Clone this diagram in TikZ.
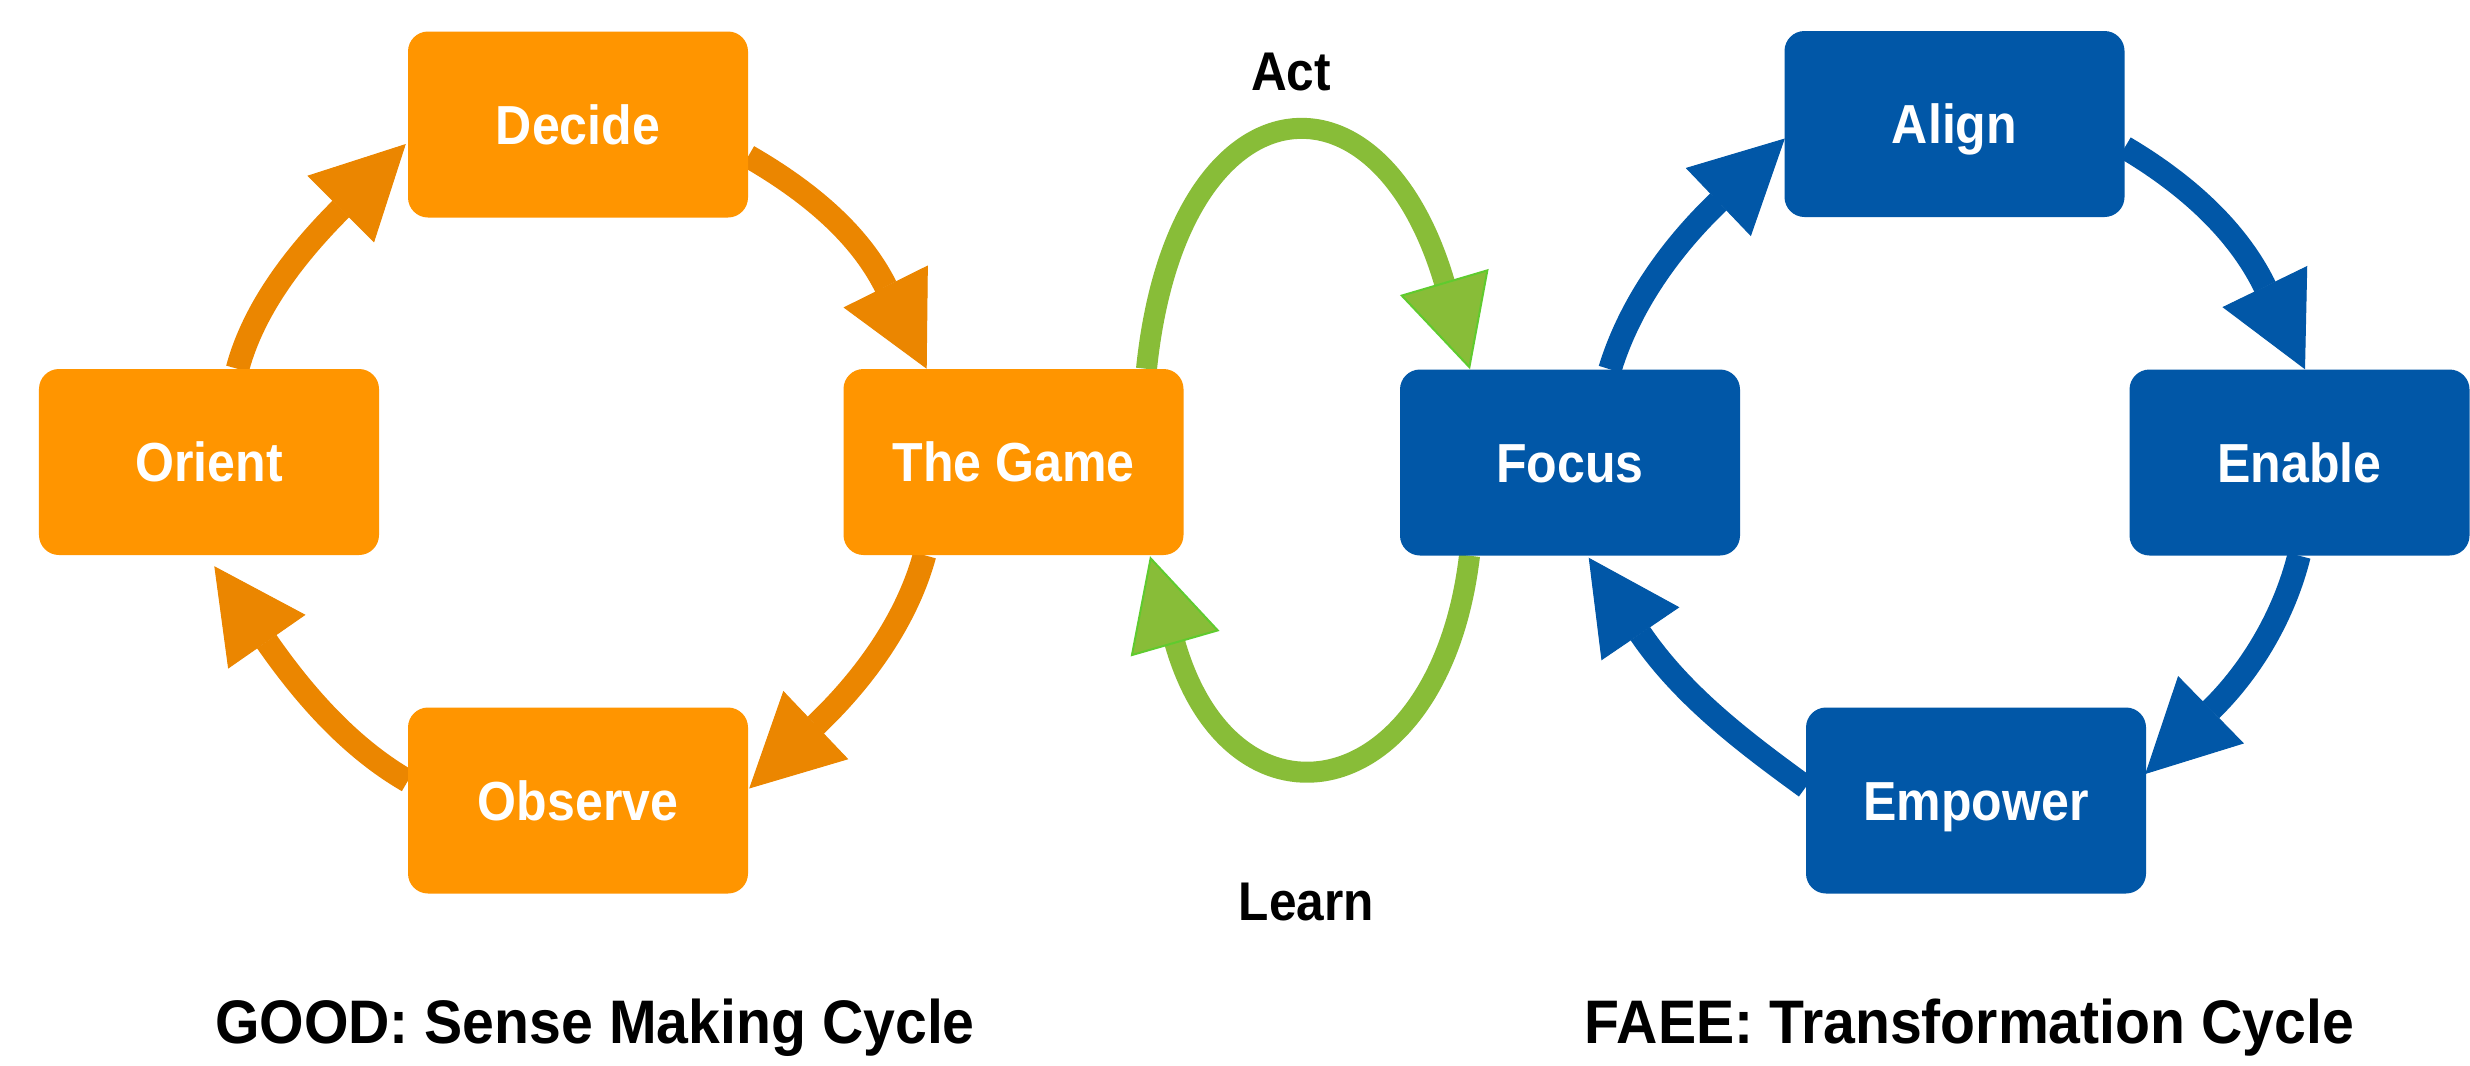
\documentclass[tikz,border=0pt]{standalone}
\usepackage{fontspec}
\setmainfont{Liberation Sans}[FakeStretch=0.91]
\newfontfamily\ttlfont{Liberation Sans}[FakeStretch=0.93]
\usetikzlibrary{arrows.meta,calc}
\pgfdeclarelayer{bg}
\pgfsetlayers{bg,main}
\definecolor{obox}{HTML}{FF9500}
\definecolor{oarr}{HTML}{EB8600}
\definecolor{bbox}{HTML}{0157A7}
\definecolor{garr}{HTML}{88BD38}
\definecolor{gedge}{HTML}{5FCB2E}
\begin{document}
\begin{tikzpicture}[x=1bp,y=-1bp,
  box/.style={rounded corners=20bp, minimum width=340bp, minimum height=186bp, inner sep=0pt,
    text=white, font=\fontsize{55bp}{60bp}\selectfont\bfseries, text height=39.5bp, text depth=0pt},
  obx/.style={box, fill=obox},
  bbx/.style={box, fill=bbox},
  lbl/.style={inner sep=0pt, text=black, font=\fontsize{54.5bp}{60bp}\selectfont\bfseries, text height=39bp, text depth=0pt},
  ttl/.style={inner sep=0pt, text=black, font=\ttlfont\fontsize{61.5bp}{66bp}\selectfont\bfseries, text height=44bp, text depth=0pt},
  oline/.style={draw=oarr, line width=23.5bp, -{Triangle[length=92bp,width=94bp,line width=1bp]}},
  bline/.style={draw=bbox, line width=23.5bp, -{Triangle[length=92bp,width=94bp,line width=1bp]}},
  gline/.style={draw=garr, line width=21bp, -{Triangle[length=91bp,width=92bp,line width=2bp,color=gedge,fill=garr]}}
]
\useasboundingbox (0,0) rectangle (2470,1065);

% GOOD cycle
\node[obx] (decide)  at (578,124.5)  {Decide};
\node[obx] (orient)  at (209,462)    {Orient};
\node[obx] (game)    at (1013.5,462) {The Game};
\node[obx] (observe) at (578,800.5)  {Observe};

% FAEE cycle
\node[bbx] (focus)   at (1570,462.5)   {Focus};
\node[bbx] (align)   at (1954.5,124)   {Align};
\node[bbx] (enable)  at (2299.5,462.5) {Enable};
\node[bbx] (empower) at (1976,800.5)   {Empower};

% labels
\node[lbl] (act)   at (1291,71)    {Act};
\node[lbl] (learn) at (1306.5,901) {Learn};
\node[ttl] (t1) at (595,1021)    {GOOD: Sense Making Cycle};
\node[ttl] (t2) at (1969.5,1021) {FAEE: Transformation Cycle};

\begin{pgfonlayer}{bg}
\fill[white] (0,0) rectangle (2470,1065);
% orange cycle
\draw[oline] ($(orient.north)+(28.5,0)$) .. controls +(16.3,-60.9) and +(-109.6,109.6) .. ($(decide.west)+(-2,19.5)$);
\draw[oline] ($(decide.east)+(0,31.8)$) .. controls +(54.6,31.5) and +(-69.1,-138.7) .. ($(game.north)+(-86.8,0)$);
\draw[oline] ($(game.south)+(-89,0)$) .. controls +(-17.6,64.7) and +(115.1,-109.6) .. ($(observe.east)+(1,-12)$);
\draw[oline] ($(observe.west)+(0,-19.5)$) .. controls +(-57.2,-33) and +(90.2,129.7) .. ($(orient.south)+(5.3,11)$);
% blue cycle
\draw[bline] ($(focus.north)+(40,0)$) .. controls +(19.4,-63.6) and +(-114.6,109.5) .. ($(align.west)+(0.5,14.5)$);
\draw[bline] ($(align.east)+(0,23.5)$) .. controls +(56.8,33.6) and +(-69,-142.2) .. ($(enable.north)+(5.5,0)$);
\draw[bline] ($(enable.south)+(-0.5,0)$) .. controls +(-14.3,57.2) and +(108,-105.5) .. ($(empower.east)+(-1,-26.5)$);
\draw[bline] ($(empower.west)+(0,-13.5)$) .. controls +(-60.7,-44.1) and +(93.9,138.1) .. ($(focus.south)+(18.7,2)$);
% green loop
\draw[gline] ($(game.north)+(133,0)$) .. controls +(30,-290) and +(-93.4,-316.9) .. ($(focus.north)+(-100,0)$);
\draw[gline] ($(focus.south)+(-100.5,0)$) .. controls +(-30,252) and +(82.5,287.4) .. ($(game.south)+(136.5,1)$);
\end{pgfonlayer}
\end{tikzpicture}
\end{document}
